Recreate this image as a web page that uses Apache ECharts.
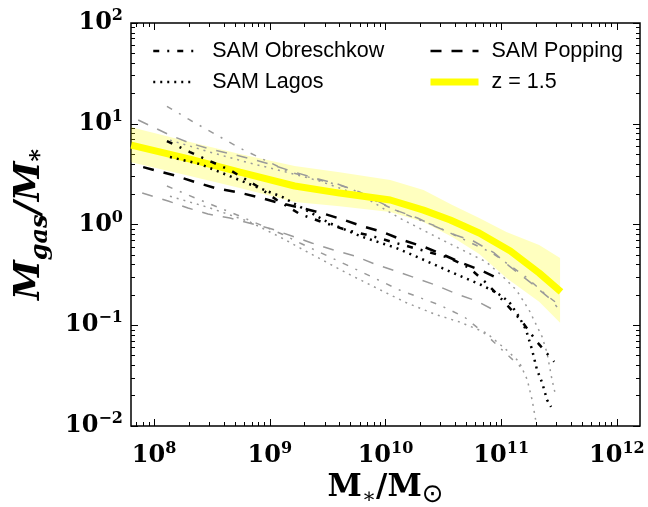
<!DOCTYPE html>
<html>
<head>
<meta charset="utf-8">
<script src="https://cdn.jsdelivr.net/npm/echarts@6/dist/echarts.min.js"></script>
<style>
  html, body { margin: 0; padding: 0; background: #fff; }
  #chart { width: 648px; height: 507px; }
</style>
</head>
<body>
<div id="chart"></div>
<script>
// z = 1.5 median and its band
const zX = [6.34e7, 2.04e8, 5.51e8, 1.64e9, 4.01e9, 1.10e10, 2.13e10, 3.63e10, 6.46e10, 1.20e11, 2.13e11, 3.29e11];
const zY = [6.14, 4.46, 3.31, 2.41, 2.05, 1.75, 1.39, 1.11, 0.824, 0.546, 0.330, 0.214];
const bandX = [6.34e7, 2.04e8, 5.51e8, 1.64e9, 4.01e9, 1.10e10, 2.13e10, 3.78e10, 6.46e10, 1.11e11, 2.13e11, 3.23e11];
const bandHi = [9.25, 6.58, 5.00, 3.80, 3.31, 2.76, 2.20, 1.56, 1.16, 0.843, 0.627, 0.466];
const bandLo = [4.16, 3.03, 2.30, 1.67, 1.52, 1.33, 1.06, 0.752, 0.510, 0.295, 0.171, 0.106];

// SAM Popping (median, high, low)
const popX = [8.04e7, 1.46e8, 2.25e8, 3.36e8, 5.20e8, 7.88e8, 1.22e9, 1.74e9, 2.81e9, 4.18e9, 6.21e9, 9.42e9, 1.40e10, 2.17e10, 2.92e10, 4.35e10, 6.86e10, 9.61e10];
const popY = [3.71, 3.10, 2.64, 2.30, 2.10, 1.87, 1.63, 1.49, 1.30, 1.13, 0.966, 0.843, 0.702, 0.598, 0.522, 0.425, 0.346, 0.288];
const popHiX = [7.28e7, 1.37e8, 2.04e8, 3.04e8, 4.70e8, 7.00e8, 1.06e9, 1.64e9, 2.44e9, 3.85e9, 5.97e9, 1.22e10, 1.89e10, 2.64e10, 4.01e10, 5.74e10, 8.71e10, 1.17e11, 1.81e11, 2.59e11, 3.04e11];
const popHiY = [10.9, 7.71, 6.43, 5.60, 5.00, 4.46, 3.89, 3.31, 2.89, 2.52, 2.10, 1.39, 1.16, 0.966, 0.787, 0.686, 0.522, 0.388, 0.263, 0.187, 0.152];
const popLoX = [7.89e7, 1.32e8, 1.96e8, 2.92e8, 4.52e8, 1.04e9, 1.55e9, 2.30e9, 3.56e9, 5.41e9, 8.04e9, 1.22e10, 1.81e10, 2.70e10, 4.09e10, 6.08e10, 9.61e10];
const popLoY = [2.05, 1.71, 1.46, 1.27, 1.16, 0.902, 0.769, 0.656, 0.558, 0.488, 0.406, 0.346, 0.295, 0.251, 0.205, 0.175, 0.133];

// SAM Obreschkow
const obrX = [1.29e8, 2.04e8, 3.04e8, 4.52e8, 7.73e8, 1.15e9, 1.82e9, 2.81e9, 4.61e9, 7.57e9, 1.32e10, 2.04e10, 3.56e10, 5.30e10, 7.43e10, 1.06e11, 1.52e11, 2.04e11, 2.87e11];
const obrY = [6.73, 5.23, 4.26, 3.47, 2.41, 1.75, 1.27, 1.06, 0.881, 0.769, 0.641, 0.558, 0.466, 0.371, 0.263, 0.171, 0.108, 0.0684, 0.0434];
const obrHiX = [1.29e8, 2.04e8, 3.36e8, 5.51e8, 9.06e8, 1.49e9, 2.70e9, 4.90e9, 7.88e9, 1.32e10, 2.70e10, 3.94e10, 8.36e10, 1.17e11, 1.68e11, 2.44e11, 2.92e11];
const obrHiY = [14.9, 10.9, 7.89, 5.73, 4.36, 3.31, 2.76, 2.30, 1.75, 1.33, 0.966, 0.787, 0.522, 0.397, 0.295, 0.200, 0.171];
const obrLoX = [1.29e8, 2.49e8, 5.51e8, 1.27e9, 1.82e9, 4.61e9, 1.32e10, 2.92e10, 4.80e10, 7.43e10, 1.06e11, 1.64e11];
const obrLoY = [2.41, 1.75, 1.21, 0.805, 0.656, 0.397, 0.224, 0.159, 0.121, 0.0803, 0.0545, 0.0345];

// SAM Lagos
const lagX = [1.37e8, 2.49e8, 4.26e8, 7.73e8, 1.29e9, 3.29e9, 6.34e9, 1.24e10, 1.96e10, 3.36e10, 4.61e10, 6.73e10, 9.24e10, 1.17e11, 1.43e11, 1.64e11, 1.85e11, 2.04e11, 2.26e11, 2.49e11, 2.70e11];
const lagY = [4.67, 3.98, 3.10, 2.35, 1.87, 1.03, 0.752, 0.585, 0.466, 0.354, 0.302, 0.251, 0.209, 0.171, 0.121, 0.0900, 0.0570, 0.0361, 0.0269, 0.0182, 0.0155];
const lagHiX = [1.37e8, 3.04e8, 6.73e8, 1.29e9, 2.70e9, 6.34e9, 1.32e10, 3.10e10, 7.43e10, 1.02e11, 1.35e11, 1.74e11, 2.26e11, 2.49e11, 2.75e11, 2.92e11];
const lagHiY = [6.88, 5.23, 4.07, 3.39, 2.70, 1.91, 1.16, 0.702, 0.425, 0.309, 0.224, 0.142, 0.0767, 0.0532, 0.0288, 0.0214];
const lagLoX = [1.37e8, 3.04e8, 6.73e8, 1.27e9, 1.82e9, 4.61e9, 1.02e10, 1.52e10, 2.75e10, 4.35e10, 7.43e10, 1.11e11, 1.43e11, 1.68e11, 1.85e11, 2.00e11];
const lagLoY = [1.91, 1.46, 1.06, 0.735, 0.585, 0.330, 0.209, 0.167, 0.127, 0.108, 0.0841, 0.0570, 0.0434, 0.0288, 0.0182, 0.0110];

// ticks
const xMajor = [1e8, 1e9, 1e10, 1e11, 1e12];
const yMajor = [0.01, 0.1, 1, 10, 100];
const xMin = 6.31e7, xMax = 1.585e12;
const yMin = 0.01, yMax = 100;

function minorTicks(lo, hi, from, to) {
  const out = [];
  for (let e = from; e <= to; e++) {
    for (let m = 2; m <= 9; m++) {
      const v = m * Math.pow(10, e);
      if (v > lo && v < hi) out.push(v);
    }
  }
  return out;
}
const xMinor = minorTicks(xMin, xMax, 7, 12);
const yMinor = minorTicks(yMin, yMax, -2, 1);

const pairs = (xs, ys) => xs.map((x, i) => [x, ys[i]]);

const serif = 'DejaVu Serif';
const labelRich = {
  b: { fontFamily: serif, fontWeight: 'bold', fontSize: 24, lineHeight: 30, color: '#000' },
  s: { fontFamily: serif, fontWeight: 'bold', fontSize: 16, lineHeight: 16, verticalAlign: 'top', color: '#000' }
};
function powLabel(v) {
  const e = Math.round(Math.log10(v));
  return '{b|10}{s|' + (e < 0 ? '\u2212' + (-e) : e) + '}';
}

function makeAxis(kind, pos, vals, len, withLabel) {
  const ax = {
    type: 'log', logBase: 10, position: pos,
    min: kind === 'x' ? xMin : yMin,
    max: kind === 'x' ? xMax : yMax,
    axisLine: { show: false },
    splitLine: { show: false },
    axisTick: { show: true, inside: true, length: len, customValues: vals, lineStyle: { color: '#000', width: 1 } },
    axisLabel: { show: false }
  };
  if (withLabel) {
    ax.axisLabel = {
      show: true, customValues: vals, formatter: powLabel, rich: labelRich,
      margin: kind === 'x' ? 15 : 8
    };
  }
  return ax;
}

const xAxes = [
  makeAxis('x', 'bottom', xMajor, 7, true),
  makeAxis('x', 'bottom', xMinor, 4, false),
  makeAxis('x', 'top', xMajor, 7, false),
  makeAxis('x', 'top', xMinor, 4, false)
];
xAxes[0].name = '{m|M}{s|\u2217}{m|/M}{o|\u2299}';
xAxes[0].nameLocation = 'middle';
xAxes[0].nameGap = 41;
xAxes[0].nameTextStyle = {
  rich: {
    m: { fontFamily: serif, fontWeight: 'bold', fontSize: 31, lineHeight: 40, color: '#000' },
    s: { fontFamily: serif, fontSize: 21, lineHeight: 20, verticalAlign: 'bottom', color: '#000' },
    o: { fontFamily: 'DejaVu Sans', fontSize: 26, lineHeight: 24, verticalAlign: 'bottom', color: '#000' }
  }
};

const yAxes = [
  makeAxis('y', 'left', yMajor, 7, true),
  makeAxis('y', 'left', yMinor, 4, false),
  makeAxis('y', 'right', yMajor, 7, false),
  makeAxis('y', 'right', yMinor, 4, false)
];
yAxes[0].name = '{m|M}{s|gas}{m|/M}{s|*}';
yAxes[0].nameLocation = 'middle';
yAxes[0].nameRotate = 90;
yAxes[0].nameGap = 78;
yAxes[0].nameTextStyle = {
  rich: {
    m: { fontFamily: serif, fontStyle: 'italic', fontWeight: 'bold', fontSize: 36, lineHeight: 46, color: '#000' },
    s: { fontFamily: serif, fontStyle: 'italic', fontWeight: 'bold', fontSize: 24, lineHeight: 24, verticalAlign: 'bottom', color: '#000' }
  }
};

const GRAY = '#9a9a9a';
const DASH = [11, 10];
const DASHDOT = [6, 8, 2, 8];
const DOT = [2, 5];

function lineSeries(name, xs, ys, color, width, type, z) {
  return {
    name: name, type: 'line', data: pairs(xs, ys),
    symbol: 'none', smooth: false, z: z, silent: true,
    lineStyle: { color: color, width: width, type: type },
    itemStyle: { color: color }
  };
}

const chart = echarts.init(document.getElementById('chart'), null, { renderer: 'canvas' });

const legendText = { fontFamily: 'Liberation Sans', fontSize: 21.5, color: '#000', lineHeight: 22 };

chart.setOption({
  animation: false,
  backgroundColor: '#fff',
  grid: {
    left: 131, top: 23, width: 509, height: 403,
    outerBoundsMode: 'none', containLabel: false,
    show: true, borderColor: '#000', borderWidth: 1.5, backgroundColor: 'transparent'
  },
  xAxis: xAxes,
  yAxis: yAxes,
  legend: [
    {
      data: [
        { name: 'SAM Obreschkow', lineStyle: { width: 2.5 } },
        { name: 'SAM Lagos', lineStyle: { width: 2.5 } }
      ],
      orient: 'vertical', left: 147, top: 35, itemWidth: 42, itemHeight: 14, itemGap: 9,
      selectedMode: false,
      itemStyle: { opacity: 0 },
      textStyle: Object.assign({ padding: [0, 0, 0, 12] }, legendText)
    },
    {
      data: [
        { name: 'SAM Popping', lineStyle: { width: 2.5 } },
        { name: 'z = 1.5', lineStyle: { width: 7 } }
      ],
      orient: 'vertical', left: 422, top: 35, itemWidth: 48, itemHeight: 14, itemGap: 9,
      selectedMode: false,
      itemStyle: { opacity: 0 },
      textStyle: Object.assign({ padding: [0, 0, 0, 8] }, legendText)
    }
  ],
  series: [
    {
      type: 'custom', name: 'band', silent: true, z: 1,
      data: [[bandX[0], bandHi[0]]],
      renderItem: function (params, api) {
        const up = bandX.map((x, i) => api.coord([x, bandHi[i]]));
        const dn = bandX.map((x, i) => api.coord([x, bandLo[i]])).reverse();
        return {
          type: 'polygon',
          shape: { points: up.concat(dn) },
          style: { fill: 'rgba(255,255,0,0.25)', stroke: 'none' }
        };
      }
    },
    lineSeries('obrHi', obrHiX, obrHiY, GRAY, 1.5, DASHDOT, 2),
    lineSeries('obrLo', obrLoX, obrLoY, GRAY, 1.5, DASHDOT, 2),
    lineSeries('lagHi', lagHiX, lagHiY, GRAY, 1.5, DOT, 2),
    lineSeries('lagLo', lagLoX, lagLoY, GRAY, 1.5, DOT, 2),
    lineSeries('popHi', popHiX, popHiY, GRAY, 1.5, DASH, 2),
    lineSeries('popLo', popLoX, popLoY, GRAY, 1.5, DASH, 2),
    lineSeries('z = 1.5', zX, zY, '#ffff00', 7, 'solid', 3),
    lineSeries('SAM Obreschkow', obrX, obrY, '#000', 2.5, DASHDOT, 4),
    lineSeries('SAM Lagos', lagX, lagY, '#000', 2.5, DOT, 4),
    lineSeries('SAM Popping', popX, popY, '#000', 2.5, DASH, 4)
  ]
});
</script>
</body>
</html>
